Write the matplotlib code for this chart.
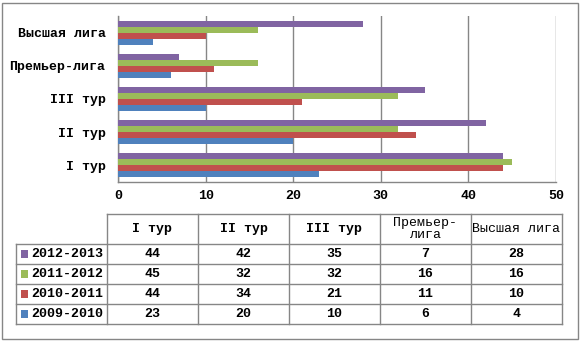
import matplotlib
matplotlib.use("Agg")

import matplotlib.pyplot as plt
import numpy as np
from matplotlib.patches import Rectangle


CATEGORIES = ["I тур", "II тур", "III тур", "Премьер-лига", "Высшая лига"]
HEADER_LABELS = ["I тур", "II тур", "III тур", "Премьер-\nлига", "Высшая лига"]
SEASONS = ["2009-2010", "2010-2011", "2011-2012", "2012-2013"]
S_2009_2010 = [23, 20, 10, 6, 4]
S_2010_2011 = [44, 34, 21, 11, 10]
S_2011_2012 = [45, 32, 32, 16, 16]
S_2012_2013 = [44, 42, 35, 7, 28]
X_TICKS = [0, 10, 20, 30, 40, 50]

COLORS = ["#4F81BD", "#C0504D", "#9BBB59", "#8064A2"]
GRID = "#868686"

W, H = 581, 341


def px_box(left, top, right, bottom):
    return [left / W, 1 - bottom / H, (right - left) / W, (bottom - top) / H]


def main():
    plt.rcParams["font.family"] = ["Liberation Mono", "DejaVu Sans"]
    plt.rcParams["font.weight"] = "bold"
    plt.rcParams["font.size"] = 9.5

    series = [S_2009_2010, S_2010_2011, S_2011_2012, S_2012_2013]

    fig = plt.figure(figsize=(W / 100, H / 100), dpi=100)

    # bar chart
    ax = fig.add_axes(px_box(118, 16, 556, 182))
    y = np.arange(len(CATEGORIES))
    bar_h = 0.18
    for i, (vals, color) in enumerate(zip(series, COLORS)):
        ax.barh(y + (i - 1.5) * bar_h, vals, height=bar_h,
                color=color, zorder=3)

    ax.set_xlim(0, 50)
    ax.set_ylim(-0.5, len(CATEGORIES) - 0.5)
    ax.set_xticks(X_TICKS)
    ax.set_yticks(y)
    ax.set_yticklabels(CATEGORIES)
    ax.xaxis.grid(True, color=GRID, lw=1, zorder=0)
    ax.tick_params(axis="both", length=0, labelsize=9.5)
    ax.tick_params(axis="y", pad=9)
    ax.tick_params(axis="x", pad=6)
    for side in ("top", "right"):
        ax.spines[side].set_visible(False)
    for side in ("left", "bottom"):
        ax.spines[side].set_color(GRID)
        ax.spines[side].set_linewidth(1)

    # data table
    tab = fig.add_axes(px_box(16, 214, 562, 324))
    tab.set_xlim(0, 6)
    tab.set_ylim(5.5, 0)
    tab.axis("off")

    line_kw = dict(color=GRID, lw=1, clip_on=False)
    tab.plot([1, 6], [0, 0], **line_kw)
    for yy in [1.5, 2.5, 3.5, 4.5, 5.5]:
        tab.plot([0, 6], [yy, yy], **line_kw)
    tab.plot([0, 0], [1.5, 5.5], **line_kw)
    for xx in range(1, 7):
        tab.plot([xx, xx], [0, 5.5], **line_kw)

    for j, label in enumerate(HEADER_LABELS):
        weight = "normal" if j >= 3 else "bold"
        tab.text(j + 1.5, 0.75, label, ha="center", va="center",
                 fontsize=9.5, fontweight=weight, linespacing=1.1)

    rows = list(zip(SEASONS, series, COLORS))[::-1]
    for r, (season, vals, color) in enumerate(rows):
        yc = 2.0 + r
        tab.add_patch(Rectangle((0.055, yc - 0.19), 0.082, 0.38,
                                facecolor=color, edgecolor="none",
                                clip_on=False))
        tab.text(0.17, yc, season, ha="left", va="center", fontsize=9.5)
        for j, v in enumerate(vals):
            tab.text(j + 1.5, yc, str(v), ha="center", va="center",
                     fontsize=9.5)

    fig.add_artist(Rectangle((2.5 / W, 1 - 338.5 / H), 575 / W, 336 / H,
                             transform=fig.transFigure, fill=False,
                             edgecolor=GRID, lw=1))

    fig.savefig("out.png", dpi=100)
    plt.close(fig)


if __name__ == "__main__":
    main()
